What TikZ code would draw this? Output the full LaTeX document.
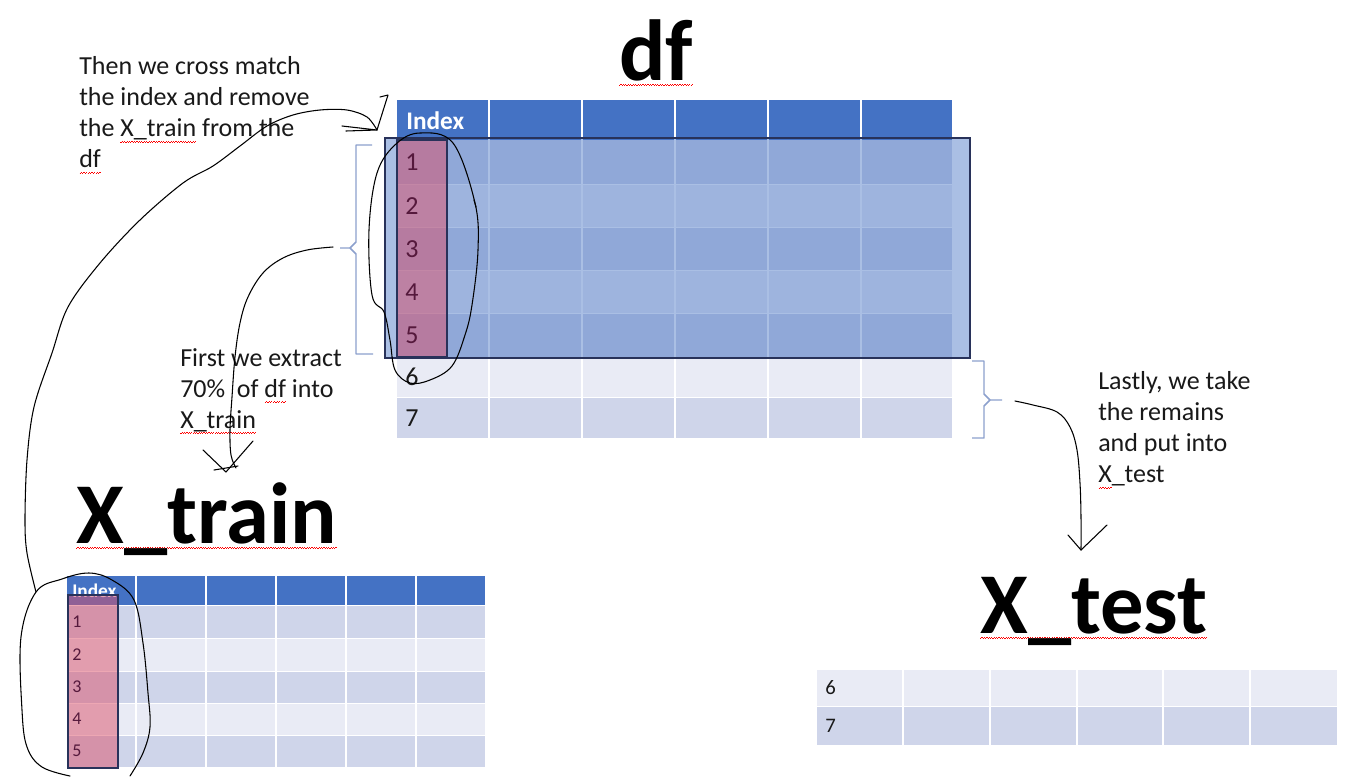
\documentclass[tikz,border=0pt]{standalone}
\usepackage{fontspec}
\setmainfont{Carlito}
\newsavebox\rwbox
\newcommand\rw[1]{\leavevmode\sbox\rwbox{#1}\rlap{\hbox to \wd\rwbox{\color{red}\xleaders\hbox{\rule[-4.4pt]{0.9pt}{0.5pt}\rule[-3.7pt]{0.9pt}{0.5pt}}\hfill}}\usebox\rwbox}
\definecolor{hdr}{RGB}{68,114,196}
\definecolor{rdark}{RGB}{207,213,234}
\definecolor{rlight}{RGB}{233,235,245}
\definecolor{navy}{RGB}{40,50,90}
\definecolor{pinkc}{RGB}{220,80,105}
\definecolor{brc}{RGB}{140,160,205}
\definecolor{numc}{RGB}{85,25,60}
\definecolor{ink}{RGB}{25,25,25}
\tikzset{
  note/.style={anchor=north west,inner sep=0pt,align=left,text=ink,font=\fontsize{19.5}{23.25}\selectfont},
  title/.style={inner sep=0pt,text=black,font=\fontsize{65}{72}\selectfont\bfseries},
  hand/.style={black,line width=0.8pt,line cap=round,line join=round},
  brace/.style={brc,line width=1.1pt,line join=round},
  sep/.style={white,line width=1.1pt},
  hdrtxt/.style={inner sep=0pt,anchor=west,text=white,font=\bfseries},
  numtxt/.style={inner sep=0pt,anchor=west}
}
\begin{document}
\begin{tikzpicture}[x=0.75pt,y=-0.75pt]
\useasboundingbox (0,0) rectangle (1361,776);
\fill[white] (0,0) rectangle (1361,776);

% ---------------- df table ----------------
\foreach \ya/\yb/\c in {140/184/rdark,184/227/rlight,227/270/rdark,270/313/rlight,313/357/rdark,357/397/rlight,397/438/rdark}
  \fill[\c] (397,\ya) rectangle (952,\yb);
\fill[hdr] (397,100) rectangle (952,140);
\foreach \x in {489,582,675,768,861} \draw[sep] (\x,100) -- (\x,438);
\foreach \y in {184,227,270,313,357,397} \draw[sep,line width=0.7pt] (397,\y) -- (952,\y);
\node[hdrtxt,font=\fontsize{19}{20}\selectfont\bfseries] (dfidx) at (406,121) {Index};
% overlay of the 70 %
\fill[hdr,opacity=0.45] (385,138) rectangle (970,358);
\draw[navy,line width=1.2pt] (385,138) rectangle (970,358);
% pink index column
\fill[pinkc,opacity=0.5] (397,140) rectangle (447,357);
\draw[navy,line width=1.1pt] (397,140) rectangle (447,357);
\foreach \n/\y in {1/162,2/206,3/249,4/292,5/335}
  \node[numtxt,text=numc,font=\fontsize{19.5}{20}\selectfont] (d\n) at (405,\y) {\n};
\node[numtxt,text=ink,font=\fontsize{19.5}{20}\selectfont] (d6) at (405,377) {6};
\node[numtxt,text=ink,font=\fontsize{19.5}{20}\selectfont] (d7) at (405,418) {7};

% ---------------- X_train table ----------------
\foreach \ya/\yb/\c in {605/638/rdark,638/671/rlight,671/703/rdark,703/735/rlight,735/767/rdark}
  \fill[\c] (67,\ya) rectangle (485,\yb);
\fill[hdr] (67,576) rectangle (485,605);
\foreach \x in {136,206,276,346,416} \draw[sep] (\x,576) -- (\x,767);
\foreach \y in {605,638,671,703,735} \draw[sep,line width=0.7pt] (67,\y) -- (485,\y);
\node[hdrtxt,font=\fontsize{14.5}{15}\selectfont\bfseries] (tridx) at (72,591) {Index};
\fill[pinkc,opacity=0.5] (68,595) rectangle (118,768);
\draw[navy,line width=1.1pt] (68,595) rectangle (118,768);
\foreach \n/\y in {1/622,2/655,3/687,4/719,5/751}
  \node[numtxt,text=numc,font=\fontsize{13.5}{14}\selectfont] (t\n) at (72,\y) {\n};

% ---------------- X_test table ----------------
\fill[rlight] (817,670) rectangle (1337,706);
\fill[rdark] (817,706) rectangle (1337,745);
\foreach \x in {903,990,1077,1163,1250} \draw[sep] (\x,670) -- (\x,745);
\draw[sep,line width=0.7pt] (817,706) -- (1337,706);
\node[numtxt,text=ink,font=\fontsize{15.5}{16}\selectfont] (e6) at (825,688) {6};
\node[numtxt,text=ink,font=\fontsize{15.5}{16}\selectfont] (e7) at (825,726) {7};

% ---------------- titles ----------------
\node[title,anchor=base] (tdf) at (656,80) {\rw{df}};
\node[title,anchor=base west] (ttrain) at (76,543) {\rw{X\_train}};
\node[title,anchor=base west] (ttest) at (980,633) {\rw{X\_test}};

% ---------------- notes ----------------
\node[note] (n1) at (79,56) {Then we cross match\\the index and remove\\the \rw{X\_train} from the\\\rw{df}};
\node[note] (n2) at (180,348) {First we extract\\70\%\ \ of \rw{df} into\\\rw{X\_train}};
\node[note] (n3) at (1098,371) {Lastly, we take\\the remains\\and put into\\\rw{X}\_test};

% ---------------- braces ----------------
\draw[brace] (372,145) -- (356,145) -- (356,242) -- (350,248) -- (340,248);
\draw[brace] (350,248) -- (356,254) -- (356,354) -- (373,354);
\draw[brace] (972,361) -- (984,361) -- (984,394) -- (990,400) -- (1002,400);
\draw[brace] (990,400) -- (984,406) -- (984,438) -- (972,438);

% ---------------- hand drawn strokes ----------------
% ellipse round the df index
\draw[hand] plot[smooth cycle,tension=0.6] coordinates {(420,133) (453,143) (475,203) (478,250) (472,305) (465,335) (452,366) (430,380) (410,383) (395,370) (390,340) (384,312) (372,295) (369,230) (377,173) (396,144)};
\draw[hand] (474,200) -- (476,207);
% loop round the X_train index and the long stroke up to df
\draw[hand] plot[smooth,tension=0.6] coordinates {(130,776) (143,753) (150,727) (148,693) (143,643) (134,600) (112,580) (89,573) (62,579) (36,592) (21,637) (22,710) (27,747) (42,767) (70,776)};
\draw[hand] plot[smooth,tension=0.55] coordinates {(36,592) (27,553) (25,520) (27,460) (34,407) (52,353) (68,307) (100,263) (140,220) (183,183) (213,166) (240,146) (267,126) (293,115) (320,110) (347,110) (367,117) (377,130)};
\draw[hand] (342,126) -- (377,130) -- (346,131);
\draw[hand] (380,97) -- (388,95) -- (377,130);
% arrow from the 70 % brace to X_train
\draw[hand] plot[smooth,tension=0.6] coordinates {(333,247) (307,250) (283,258) (263,273) (248,297) (240,323) (235,357) (232,397) (230,430) (231,455) (236,468)};
\draw[hand] (203,450) -- (226,472) -- (253,441);
\draw[hand] (214,470) -- (238,466);
% arrow from the remaining rows to X_test
\draw[hand] plot[smooth,tension=0.6] coordinates {(1015,401) (1033,405) (1057,412) (1070,427) (1077,450) (1080,483) (1081,517) (1081,550)};
\draw[hand] (1068,535) -- (1081,550) -- (1107,525);
\end{tikzpicture}
\end{document}
